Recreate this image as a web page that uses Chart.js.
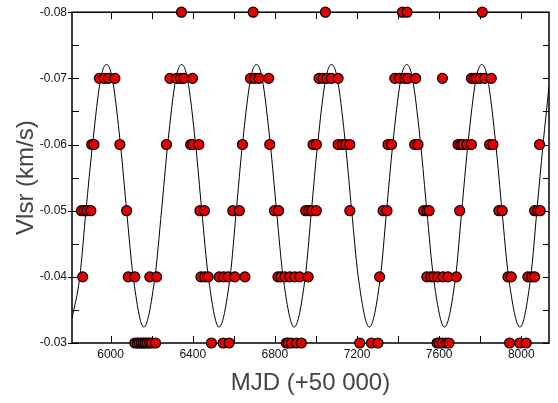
<!DOCTYPE html>
<html>
<head>
<meta charset="utf-8">
<script src="https://cdn.jsdelivr.net/npm/chart.js@4"></script>
<style>
  body { margin: 0; background: #fff; }
  canvas { display: block; }
</style>
</head>
<body>
<canvas id="vlsrChart" width="558" height="403"></canvas>
<script>
// --- DATA ---
// MJD (+50 000) of the measured points, grouped by their Vlsr channel (km/s)
const mjdAt080 = [6345, 6694, 7046, 7421, 7444, 7810];
const mjdAt070 = [5945, 5969, 5989, 6021, 6289, 6321, 6340, 6357, 6399, 6681, 6702, 6723, 6770,
    7015, 7035, 7054, 7075, 7108, 7384, 7408, 7432, 7448, 7486, 7616, 7757, 7770, 7781, 7800, 7822, 7854];
const mjdAt060 = [5908, 5919, 6045, 6272, 6390, 6400, 6430, 6642, 6775, 6986, 7002, 7108, 7129, 7145, 7165,
    7351, 7368, 7481, 7497, 7692, 7705, 7716, 7736, 7757, 7846, 7862, 8089];
const mjdAt050 = [5858, 5872, 5886, 5904, 6078, 6435, 6457, 6595, 6627, 6798, 6818, 6950, 6965, 6980, 7002,
    7165, 7327, 7346, 7525, 7540, 7551, 7700, 7891, 7907, 8065, 8080, 8092];
const mjdAt040 = [5864, 6086, 6118, 6191, 6224, 6440, 6459, 6475, 6529, 6551, 6573, 6605, 6654,
    6815, 6830, 6848, 6873, 6897, 6921, 6962, 7310, 7540, 7560, 7575, 7594, 7619, 7643, 7684,
    7935, 7951, 8032, 8050, 8065];
const mjdAt030 = [6118, 6130, 6139, 6150, 6159, 6168, 6178, 6190, 6200, 6219, 6491, 6548, 6577,
    6856, 6865, 6881, 6905, 6929, 7213, 7270, 7302, 7590, 7600, 7615, 7635, 7648, 7943, 7992, 8024];

const vlsrLevels = [-0.08, -0.07, -0.06, -0.05, -0.04, -0.03];
const mjdByLevel = [mjdAt080, mjdAt070, mjdAt060, mjdAt050, mjdAt040, mjdAt030];

// fitted curve (peaks, troughs and level crossings)
const curveMjd = [5812, 5850, 5880, 5912, 5952, 5980, 6008, 6048, 6078, 6110,
    6162, 6216, 6248, 6278, 6318, 6346, 6374, 6414, 6444, 6476,
    6528, 6582, 6612, 6642, 6682, 6710, 6738, 6778, 6808, 6840,
    6894, 6948, 6978, 7008, 7048, 7076, 7104, 7144, 7174, 7206,
    7260, 7314, 7344, 7374, 7414, 7442, 7470, 7510, 7540, 7572,
    7626, 7680, 7710, 7740, 7780, 7808, 7836, 7876, 7906, 7938,
    7994, 8046, 8076, 8106, 8135];
const curveVlsr = [-0.0337, -0.040, -0.050, -0.060, -0.070, -0.0721, -0.070, -0.060, -0.050, -0.040,
    -0.0324, -0.040, -0.050, -0.060, -0.070, -0.0721, -0.070, -0.060, -0.050, -0.040,
    -0.0324, -0.040, -0.050, -0.060, -0.070, -0.0721, -0.070, -0.060, -0.050, -0.040,
    -0.0324, -0.040, -0.050, -0.060, -0.070, -0.0721, -0.070, -0.060, -0.050, -0.040,
    -0.0324, -0.040, -0.050, -0.060, -0.070, -0.0721, -0.070, -0.060, -0.050, -0.040,
    -0.0324, -0.040, -0.050, -0.060, -0.070, -0.0721, -0.070, -0.060, -0.050, -0.040,
    -0.0324, -0.040, -0.050, -0.060, -0.0688];

const xTickLabels = [6000, 6400, 6800, 7200, 7600, 8000];
const xTickMarks = [6000, 6200, 6400, 6600, 6800, 7000, 7200, 7400, 7600, 7800, 8000];
const yTickLabels = [-0.08, -0.07, -0.06, -0.05, -0.04, -0.03];
const yTickMarks = [-0.08, -0.075, -0.07, -0.065, -0.06, -0.055, -0.05, -0.045, -0.04, -0.035, -0.03];

// --- BUILD ---
const measured = [];
mjdByLevel.forEach((list, i) => {
    list.forEach(mjd => measured.push({ x: mjd, y: vlsrLevels[i] }));
});
const curve = curveMjd.map((mjd, i) => ({ x: mjd, y: curveVlsr[i] }));

const FONT = 'Arial, "Liberation Sans", Helvetica, sans-serif';

// box round the plot + inward ticks on all four sides
const frameTicks = {
    id: 'frameTicks',
    beforeDatasetsDraw(chart) {
        const { ctx, chartArea: a, scales: { x, y } } = chart;
        const seg = (x1, y1, x2, y2) => { ctx.beginPath(); ctx.moveTo(x1, y1); ctx.lineTo(x2, y2); ctx.stroke(); };
        ctx.save();
        ctx.strokeStyle = '#000';
        ctx.lineWidth = 1;
        xTickMarks.forEach(v => {
            const px = Math.round(x.getPixelForValue(v)) + 0.5;
            seg(px, a.bottom, px, a.bottom - 7);
            seg(px, a.top, px, a.top + 7);
        });
        yTickMarks.forEach(v => {
            const py = Math.round(y.getPixelForValue(v)) + 0.5;
            const major = yTickLabels.some(t => Math.abs(t - v) < 1e-6);
            seg(a.left - (major ? 4 : 0), py, a.left + 7, py);
            seg(a.right, py, a.right - 6, py);
        });
        ctx.lineWidth = 1.5;
        ctx.strokeRect(a.left, a.top, a.right - a.left, a.bottom - a.top);
        ctx.restore();
    }
};

new Chart(document.getElementById('vlsrChart'), {
    type: 'scatter',
    data: {
        datasets: [{
            data: measured,
            order: 1,
            pointRadius: 5,
            pointHoverRadius: 5,
            backgroundColor: '#e50000',
            borderColor: '#000',
            borderWidth: 1.2,
            clip: false
        }, {
            data: curve,
            order: 2,
            showLine: true,
            pointRadius: 0,
            borderColor: '#000',
            borderWidth: 1,
            cubicInterpolationMode: 'monotone'
        }]
    },
    options: {
        responsive: false,
        animation: false,
        layout: { padding: { top: 7, right: 9, left: 0, bottom: 0 } },
        plugins: { legend: { display: false }, tooltip: { enabled: false } },
        scales: {
            x: {
                type: 'linear',
                min: 5812,
                max: 8135,
                grid: { display: false, drawTicks: false },
                border: { display: false },
                afterBuildTicks: s => { s.ticks = xTickLabels.map(v => ({ value: v })); },
                afterFit: s => { s.height = 60; },
                ticks: {
                    color: '#111',
                    font: { family: FONT, size: 12 },
                    padding: 4,
                    maxRotation: 0,
                    callback: v => String(v)
                },
                title: {
                    display: true,
                    text: 'MJD (+50 000)',
                    color: '#444',
                    font: { family: FONT, size: 24 },
                    padding: { top: 0, bottom: 5 }
                }
            },
            y: {
                type: 'linear',
                reverse: true,
                min: -0.08,
                max: -0.03,
                grid: { display: false, drawTicks: false },
                border: { display: false },
                afterBuildTicks: s => { s.ticks = yTickLabels.map(v => ({ value: v })); },
                afterFit: s => { s.width = 72; },
                ticks: {
                    color: '#111',
                    font: { family: FONT, size: 12 },
                    padding: 5,
                    callback: v => v.toFixed(2)
                },
                title: {
                    display: true,
                    text: 'Vlsr (km/s)',
                    color: '#444',
                    font: { family: FONT, size: 24 },
                    padding: { top: 12, bottom: 0 }
                }
            }
        }
    },
    plugins: [frameTicks]
});
</script>
</body>
</html>
